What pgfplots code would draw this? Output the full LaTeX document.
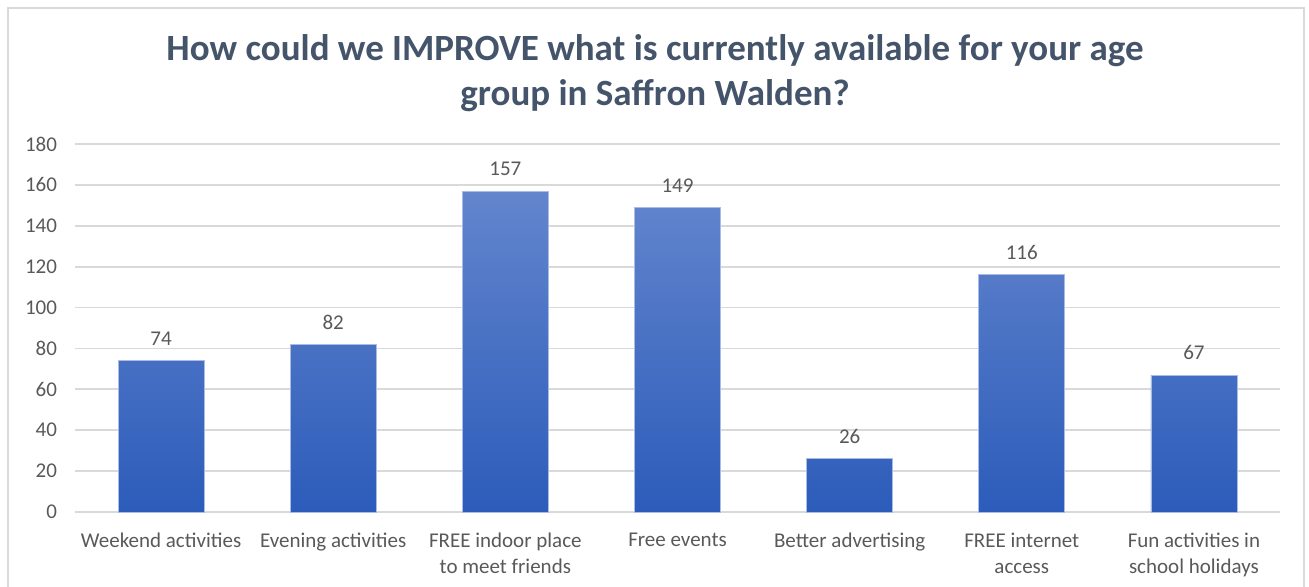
\documentclass[border=0pt]{standalone}
\usepackage{pgfplots}
\pgfplotsset{compat=1.18}
\usepackage{fontspec}
\setmainfont{Carlito}
\definecolor{titlec}{HTML}{44546A}
\definecolor{txtc}{HTML}{595959}
\definecolor{gridc}{HTML}{D9D9D9}
\definecolor{bartop}{HTML}{6385CD}
\definecolor{barbot}{HTML}{2C5CBA}
\definecolor{baredge}{HTML}{A9BCE5}
\begin{document}
\begin{tikzpicture}
\useasboundingbox (0pt,0pt) rectangle (654.5pt,293.5pt);
\draw[gridc, line width=1pt] (4pt,-5pt) -- (4pt,289.5pt) -- (652pt,289.5pt) -- (652pt,-5pt);
\node[font=\fontsize{18.5}{22.5}\selectfont\bfseries, text=titlec, align=center] at (327.5pt,257pt) {How could we IMPROVE what is currently available for your age\\group in Saffron Walden?};
\begin{axis}[
  at={(37.5pt,37.5pt)}, anchor=south west,
  scale only axis, width=602.5pt, height=184pt,
  xmin=-0.5, xmax=6.5, ymin=0, ymax=180,
  ytick={0,20,...,180},
  xtick={0,...,6},
  xticklabels={Weekend activities, Evening activities, FREE indoor place\\to meet friends, Free events, Better advertising, FREE internet\\access, Fun activities in\\school holidays},
  axis line style={draw=none},
  major tick length=0pt,
  ymajorgrids, grid style={gridc, line width=0.9pt},
  tick label style={font=\fontsize{10.5}{13}\selectfont, text=txtc},
  /pgf/number format/assume math mode=true,
  yticklabel style={xshift=-5.5pt},
  xticklabel style={align=center, yshift=-7pt},
  clip=false,
]
\addplot[ybar, bar width=0.5, top color=bartop, bottom color=barbot, draw=baredge, line width=0.4pt,
  nodes near coords, every node near coord/.append style={font=\fontsize{10.5}{12}\selectfont, text=txtc, yshift=4pt}]
  coordinates {(0,74) (1,82) (2,157) (3,149) (4,26) (5,116) (6,67)};
\end{axis}
\end{tikzpicture}
\end{document}
